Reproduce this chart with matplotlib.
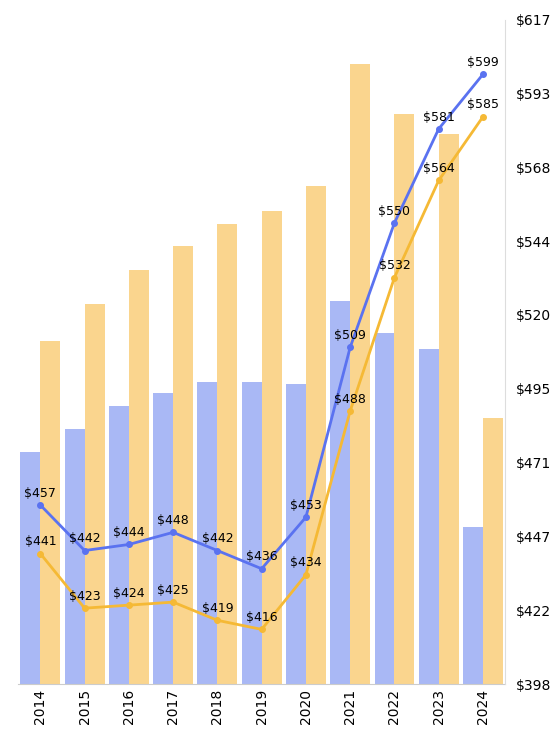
import matplotlib.pyplot as plt
import numpy as np

years = ["2014", "2015", "2016", "2017", "2018", "2019", "2020", "2021", "2022", "2023", "2024"]
blue_bars = [232, 255, 278, 291, 302, 302, 300, 383, 351, 335, 157]
yellow_bars = [343, 380, 414, 438, 460, 473, 498, 620, 570, 550, 266]
blue_line = [457, 442, 444, 448, 442, 436, 453, 509, 550, 581, 599]
yellow_line = [441, 423, 424, 425, 419, 416, 434, 488, 532, 564, 585]

fig = plt.figure(figsize=(5.52, 7.3), dpi=100)
ax = fig.add_axes([0.033, 0.063, 0.882, 0.91])
x = np.arange(len(years))
w = 0.45
ax.bar(x - w / 2, blue_bars, w, color="#a9b8f5")
ax.bar(x + w / 2, yellow_bars, w, color="#fad58e")
ax.set_ylim(0, 664)
ax.set_xlim(-0.5, 10.5)
ax.set_yticks([])
ax.set_xticks(x)
ax.set_xticklabels(years, rotation=90, fontsize=10)
ax.tick_params(axis="x", length=0)
for s in ["top", "left", "right"]:
    ax.spines[s].set_visible(False)
ax.spines["bottom"].set_color("#cccccc")

ax2 = ax.twinx()
ax2.plot(x, blue_line, color="#5a72f0", lw=2, marker="o", ms=4)
ax2.plot(x, yellow_line, color="#f5b935", lw=2, marker="o", ms=4)
for xi, v in zip(x, blue_line):
    ax2.annotate(f"${v}", (xi, v), xytext=(0, 6), textcoords="offset points", ha="center", fontsize=9)
for xi, v in zip(x, yellow_line):
    ax2.annotate(f"${v}", (xi, v), xytext=(0, 6), textcoords="offset points", ha="center", fontsize=9)
ticks = np.linspace(398, 617, 10)
ax2.set_ylim(398, 617)
ax2.set_yticks(ticks)
ax2.set_yticklabels([f"${t:.0f}" for t in ticks], fontsize=10)
ax2.tick_params(axis="y", length=0, pad=8)
for s in ["top", "left", "bottom"]:
    ax2.spines[s].set_visible(False)
ax2.spines["right"].set_color("#dddddd")

fig.savefig("out.png", dpi=100)
